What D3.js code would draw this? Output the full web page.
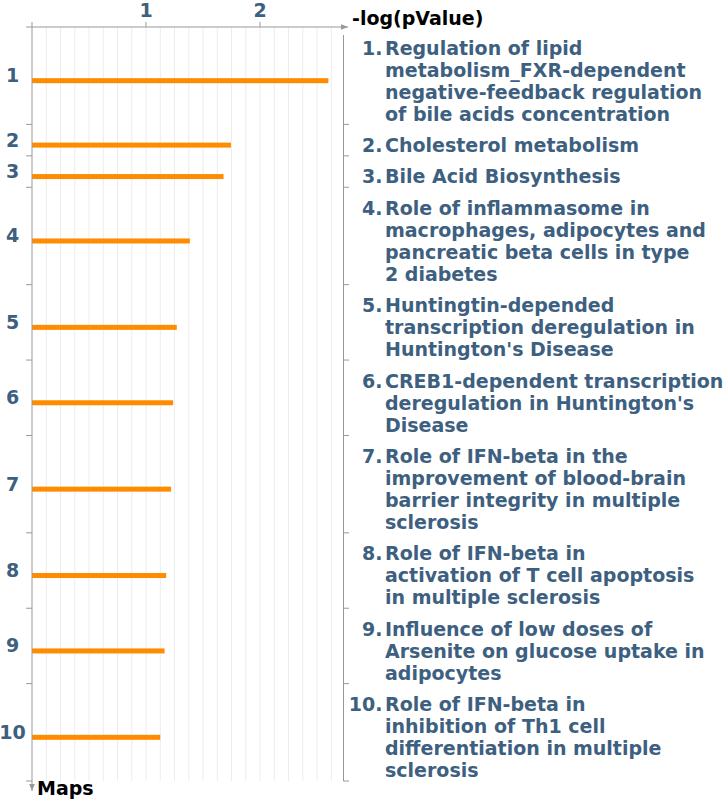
<!DOCTYPE html>
<html>
<head>
<meta charset="utf-8">
<script src="https://cdn.jsdelivr.net/npm/d3@7"></script>
<style>
  body { margin: 0; background: #fff; }
  text { font-family: "DejaVu Sans", sans-serif; font-weight: bold; }
</style>
</head>
<body>
<script>
// ranks and -log(pValue)
const ranks = [1, 2, 3, 4, 5, 6, 7, 8, 9, 10]
const pValues = [2.6, 1.745, 1.68, 1.385, 1.27, 1.238, 1.22, 1.177, 1.163, 1.125]
const xTicks = [1, 2]
// map names, one entry per printed line
const mapNames = [
    ['Regulation of lipid', 'metabolism_FXR-dependent', 'negative-feedback regulation', 'of bile acids concentration'],
    ['Cholesterol metabolism'],
    ['Bile Acid Biosynthesis'],
    ['Role of inflammasome in', 'macrophages, adipocytes and', 'pancreatic beta cells in type', '2 diabetes'],
    ['Huntingtin-depended', 'transcription deregulation in', "Huntington's Disease"],
    ['CREB1-dependent transcription', "deregulation in Huntington's", 'Disease'],
    ['Role of IFN-beta in the', 'improvement of blood-brain', 'barrier integrity in multiple', 'sclerosis'],
    ['Role of IFN-beta in', 'activation of T cell apoptosis', 'in multiple sclerosis'],
    ['Influence of low doses of', 'Arsenite on glucose uptake in', 'adipocytes'],
    ['Role of IFN-beta in', 'inhibition of Th1 cell', 'differentiation in multiple', 'sclerosis']
]

const W = 726, H = 803
const topY = 27, leftX = 32
const lineH = 22, rowPad = 9.5
const textColor = '#3d6080', axisColor = '#999', barColor = '#ff8c00'

// each row is as tall as its wrapped label
let acc = 0
const rows = mapNames.map((lines, i) => {
    const h = lines.length * lineH + rowPad
    const r = { rank: ranks[i], value: pValues[i], lines: lines, y0: acc, y1: acc + h }
    acc += h
    return r
})

const x = d3.scaleLinear().domain([0, 2.75]).range([leftX, leftX + 2.75 * 114])
const y = d3.scaleLinear().domain([0, acc]).range([topY, 781])

const svg = d3.select('body').append('svg')
    .attr('width', W)
    .attr('height', H)

svg.append('defs').append('marker')
    .attr('id', 'arrow')
    .attr('viewBox', '0 0 10 10')
    .attr('refX', 10).attr('refY', 5)
    .attr('markerWidth', 7).attr('markerHeight', 7)
    .attr('orient', 'auto')
    .append('path')
    .attr('d', 'M0,1 L10,5 L0,9 Z')
    .attr('fill', axisColor)

// minor gridlines
svg.append('g')
    .selectAll('line')
    .data(d3.range(0.125, 2.7, 0.125)).enter()
    .append('line')
    .attr('x1', d => x(d)).attr('x2', d => x(d))
    .attr('y1', topY).attr('y2', y(acc))
    .attr('stroke', '#ececec')
    .attr('stroke-width', 1)

// bars
svg.append('g')
    .selectAll('rect')
    .data(rows).enter()
    .append('rect')
    .attr('x', x(0))
    .attr('y', d => y((d.y0 + d.y1) / 2) + 2.5)
    .attr('width', d => x(d.value) - x(0))
    .attr('height', 5)
    .attr('fill', barColor)

// top axis
svg.append('line')
    .attr('x1', leftX - 6).attr('x2', 348)
    .attr('y1', topY).attr('y2', topY)
    .attr('stroke', axisColor)
    .attr('marker-end', 'url(#arrow)')
svg.append('g')
    .selectAll('line')
    .data([0].concat(xTicks)).enter()
    .append('line')
    .attr('x1', d => x(d)).attr('x2', d => x(d))
    .attr('y1', topY - 5).attr('y2', topY)
    .attr('stroke', axisColor)
svg.append('g')
    .selectAll('text')
    .data(xTicks).enter()
    .append('text')
    .attr('x', d => x(d))
    .attr('y', 17)
    .attr('text-anchor', 'middle')
    .attr('font-size', 19)
    .attr('fill', textColor)
    .text(d => d)
svg.append('text')
    .attr('x', 352).attr('y', 25)
    .attr('font-size', 19)
    .attr('fill', '#000')
    .text('-log(pValue)')

// left axis
svg.append('line')
    .attr('x1', leftX).attr('x2', leftX)
    .attr('y1', topY).attr('y2', 791)
    .attr('stroke', axisColor)
    .attr('marker-end', 'url(#arrow)')
svg.append('g')
    .selectAll('line')
    .data(rows).enter()
    .append('line')
    .attr('x1', leftX - 6).attr('x2', leftX)
    .attr('y1', d => y(d.y1)).attr('y2', d => y(d.y1))
    .attr('stroke', axisColor)
svg.append('g')
    .selectAll('text')
    .data(rows).enter()
    .append('text')
    .attr('x', 12.5)
    .attr('y', d => y((d.y0 + d.y1) / 2) + 6.5)
    .attr('text-anchor', 'middle')
    .attr('font-size', 19)
    .attr('fill', textColor)
    .text(d => d.rank)
svg.append('text')
    .attr('x', 37).attr('y', 795)
    .attr('font-size', 19)
    .attr('fill', '#000')
    .text('Maps')

// right separator with row ticks
svg.append('line')
    .attr('x1', 343.5).attr('x2', 343.5)
    .attr('y1', 35).attr('y2', y(acc))
    .attr('stroke', axisColor)
svg.append('g')
    .selectAll('line')
    .data(rows).enter()
    .append('line')
    .attr('x1', 343.5).attr('x2', 349)
    .attr('y1', d => y(d.y1)).attr('y2', d => y(d.y1))
    .attr('stroke', axisColor)

// labels
const lab = svg.append('g')
    .selectAll('g')
    .data(rows).enter()
    .append('g')
lab.append('text')
    .attr('x', 382.5)
    .attr('y', d => y(d.y0) + 27.5)
    .attr('text-anchor', 'end')
    .attr('font-size', 19)
    .attr('fill', textColor)
    .text(d => d.rank + '.')
lab.append('text')
    .attr('font-size', 19)
    .attr('fill', textColor)
    .selectAll('tspan')
    .data(d => d.lines.map((s, j) => ({ s: s, yy: y(d.y0) + 27.5 + j * lineH })))
    .enter().append('tspan')
    .attr('x', 385)
    .attr('y', d => d.yy)
    .text(d => d.s)
</script>
</body>
</html>
